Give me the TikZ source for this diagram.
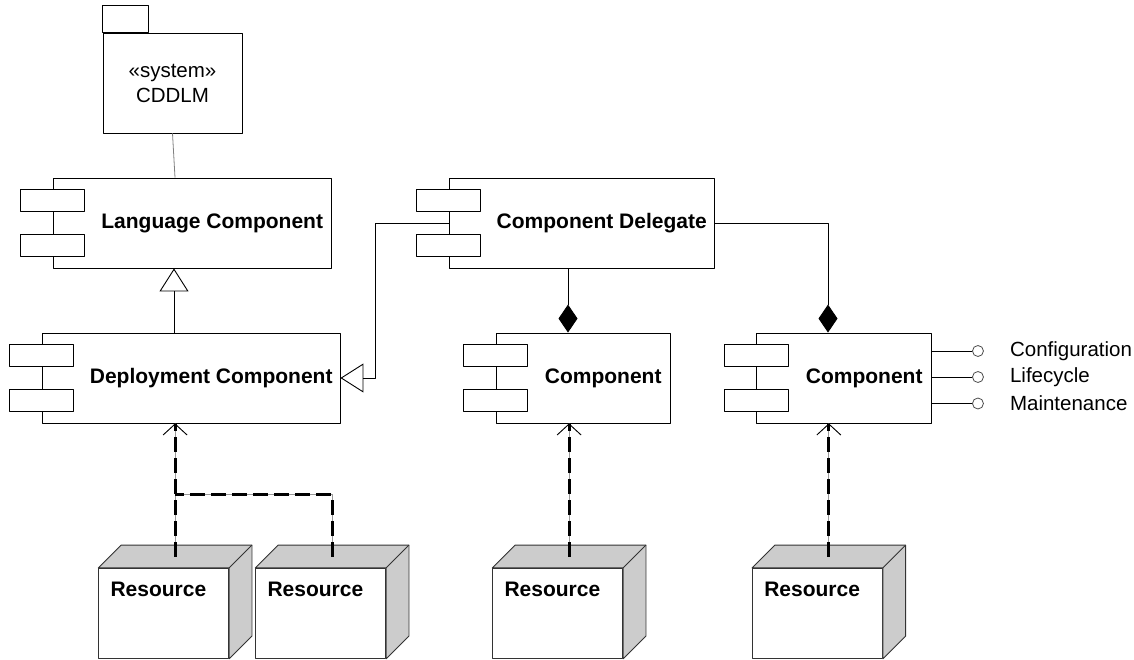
\documentclass[tikz,border=0pt]{standalone}
\usepackage{fontspec}
\setmainfont{Liberation Sans}
\usetikzlibrary{arrows.meta,calc,positioning}

\begin{document}
\begin{tikzpicture}[x=1pt,y=1pt,line join=round,
    every node/.style={inner sep=0pt},
    comp/.style={draw,line width=0.9pt,minimum height=90pt},
    port/.style={draw,fill=white,line width=0.9pt,minimum width=64pt,minimum height=22.5pt},
    ctitle/.style={font=\fontsize{21}{24}\selectfont\bfseries},
    pkg/.style={draw,line width=0.9pt,minimum width=139pt,minimum height=100pt,align=center,font=\fontsize{20.5}{25}\selectfont},
    iface/.style={draw=black!70,line width=0.8pt,circle,minimum size=11pt},
    iflabel/.style={font=\fontsize{20.5}{24}\selectfont},
    rfront/.style={draw=black!80,fill=white,line width=0.9pt,minimum width=130pt,minimum height=90pt},
    rside/.style={draw=black!80,fill=black!20,line width=0.9pt},
    rtitle/.style={font=\fontsize{21}{24}\selectfont\bfseries},
    gen/.style={line width=0.9pt,-{Triangle[open,length=23pt,width=29pt]}},
    compo/.style={line width=0.9pt,{Diamond[length=28pt,width=19pt]}-},
    depline/.style={line width=3pt,dash pattern=on 15pt off 6pt,
      preaction={draw=black!40,line width=0.7pt,solid}},
    deptip/.style={-{Straight Barb[length=11pt,width=24pt,line width'=0.8pt]}}]
\useasboundingbox (0,0) rectangle (1134,659);

% system package
\node[pkg] (sys) at (172.5,576) {«system»\\CDDLM};
\draw[line width=0.9pt] (sys.north west) rectangle ++(46,27);

% components
\foreach \n/\cx/\cy/\w/\lbl in {lang/192/436/278/Language Component,
    dep/191/281/298/Deployment Component, deleg/581.5/436/265/Component Delegate,
    cmid/583/281/174/Component, cright/844/281/175/Component}{
  \node[comp,minimum width=\w] (\n) at (\cx,\cy) {};
  \node[port] (\n-p1) at ([yshift=22.5pt]\n.west) {};
  \node[port] (\n-p2) at ([yshift=-22.5pt]\n.west) {};
  \node[ctitle] (\n-t) at ($(\n-p1.east |- \n.east)!0.5!(\n.east)+(4,0)$) {\lbl};
}

\draw[black!50,line width=0.8pt] (sys.south) -- ([xshift=-17pt]lang.north);

% generalisation
\draw[gen] ([xshift=-17pt]dep.north) -- ([xshift=-17pt]dep.north |- lang.south);
\draw[gen] (deleg.west) -- ++(-73,0) |- (dep.east);

% composition
\draw[compo] ([xshift=-15pt]cmid.north) -- ([xshift=-15pt]cmid.north |- deleg.south);
\draw[compo] ([xshift=-16pt]cright.north) |- (deleg.east);

% interfaces
\foreach \n/\dy/\lbl in {cfg/27/Configuration, life/1/Lifecycle, maint/-25.5/Maintenance}{
  \node[iface] (\n) at ($(cright.east)+(46,\dy)$) {};
  \draw[line width=0.9pt] (cright.east |- \n) -- (\n);
  \node[iflabel,right=26pt of \n] (\n-t) {\lbl};
}

% resources
\foreach \n/\cx in {res1/163.8,res2/320.8,res3/557.8,res4/817.5}{
  \node[rfront] (\n) at (\cx,45.7) {};
  \draw[rside] (\n.north west) -- ++(22.7,22.7) -| ([shift={(22.7,22.7)}]\n.south east)
    -- (\n.south east) -- (\n.north east) -- cycle;
  \draw[rside] (\n.north east) -- ++(22.7,22.7);
  \node[rtitle,anchor=west] (\n-t) at ([shift={(12,-21.7)}]\n.north west) {Resource};
  \coordinate (\n-top) at ([shift={(11.3,11.3)}]\n.north);
}

% dependencies
\draw[depline,deptip] (res1-top) -- (res1-top |- dep.south);
\draw[depline] (res2-top) |- ($(res1-top)+(0,62)$);
\draw[depline,deptip] (res3-top) -- (res3-top |- cmid.south);
\draw[depline,deptip] (res4-top) -- (res4-top |- cright.south);
\end{tikzpicture}
\end{document}
